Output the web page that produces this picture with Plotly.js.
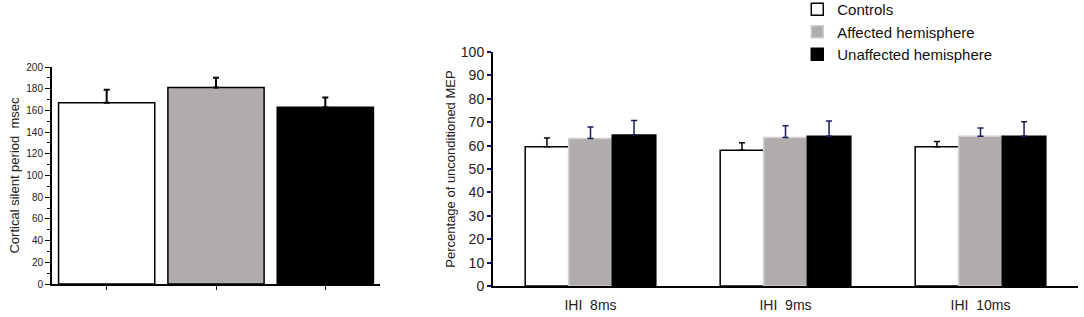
<!DOCTYPE html>
<html><head><meta charset="utf-8">
<script src="https://cdn.plot.ly/plotly-3.0.1.min.js"></script>
<style>html,body{margin:0;padding:0;background:#fff}#c{width:1084px;height:317px}</style>
</head><body><div id="c"></div>
<script>
// Left panel: cortical silent period
const groups = ['Controls', 'Affected hemisphere', 'Unaffected hemisphere'];
const cspValues = [167, 181, 163];
const cspErrors = [12, 9, 9];

// Right panel: IHI
const ihiLabels = ['IHI\u00a0 8ms', 'IHI\u00a0 9ms', 'IHI\u00a0 10ms'];
const controlsIHI = [59.5, 58, 59.5];
const controlsErr = [3.8, 3.2, 2.2];
const affectedIHI = [63, 63.5, 64];
const affectedErr = [5, 5, 3.5];
const unaffectedIHI = [64.5, 64, 64];
const unaffectedErr = [6.2, 6.5, 6.2];

const fills = ['#ffffff', '#b0acab', '#000000'];
const outlines = ['#000000', '#cfcfcf', '#000000'];

const traces = [];
traces.push({
  type: 'bar', x: groups, y: cspValues, xaxis: 'x', yaxis: 'y', showlegend: false, width: 0.88,
  marker: {color: fills, line: {color: '#000', width: 1.5}},
  error_y: {type: 'data', symmetric: false, array: cspErrors, arrayminus: [0,0,0], color: '#000', thickness: 2, width: 3},
  hoverinfo: 'none'
});
const rightSeries = [controlsIHI, affectedIHI, unaffectedIHI];
const rightErrs = [controlsErr, affectedErr, unaffectedErr];
const errColors = ['#000000', '#1c1c5a', '#1c1c5a'];
for (let i = 0; i < 3; i++) {
  traces.push({
    type: 'bar', name: groups[i], x: ihiLabels, y: rightSeries[i], xaxis: 'x2', yaxis: 'y2',
    marker: {color: fills[i], line: {color: outlines[i], width: 1.5}},
    error_y: {type: 'data', symmetric: false, array: rightErrs[i], arrayminus: [0,0,0], color: errColors[i], thickness: 1.5, width: 3},
    hoverinfo: 'none'
  });
}

const layout = {
  width: 1084, height: 317,
  margin: {l: 0, r: 0, t: 0, b: 0, autoexpand: false},
  paper_bgcolor: '#fff', plot_bgcolor: 'rgba(0,0,0,0)',
  font: {family: 'Arial, "Liberation Sans", sans-serif', color: '#111'},
  barmode: 'group', bargap: 0.33, bargroupgap: 0,
  showlegend: true,
  legend: {x: 0.7355, y: 1.022, xanchor: 'left', yanchor: 'top', font: {size: 15, color: '#111'}, bgcolor: 'rgba(0,0,0,0)', tracegroupgap: 0},
  xaxis: {domain: [52/1084, 380/1084], anchor: 'y', showline: true, linecolor: '#000', linewidth: 1.5,
    ticks: 'outside', ticklen: 4, tickcolor: '#000', showticklabels: false, showgrid: false, zeroline: false},
  yaxis: {domain: [(317-284)/317, (317-67)/317], anchor: 'x', range: [0, 200], dtick: 20,
    showline: true, linecolor: '#000', linewidth: 2, ticks: 'outside', ticklen: 5, tickcolor: '#000',
    minor: {dtick: 10, ticks: 'outside', ticklen: 3, tickcolor: '#000'},
    tickfont: {size: 10, color: '#222'}, showgrid: false, zeroline: false,
    title: {text: 'Cortical silent period  msec', font: {size: 13, color: '#222'}, standoff: 4}},
  xaxis2: {domain: [493/1084, 1078/1084], anchor: 'y2', showline: true, linecolor: '#000', linewidth: 2,
    ticks: '', ticklabelstandoff: 5, tickfont: {size: 14, color: '#222'}, showgrid: false, zeroline: false},
  yaxis2: {domain: [(317-286)/317, (317-52)/317], anchor: 'x2', range: [0, 100], dtick: 10,
    showline: true, linecolor: '#000', linewidth: 2, ticks: 'outside', ticklen: 4, tickcolor: '#0a0a7a', tickwidth: 2,
    tickfont: {size: 14, color: '#222'}, showgrid: false, zeroline: false,
    title: {text: 'Percentage of unconditioned MEP', font: {size: 13, color: '#222'}, standoff: 2}}
};
Plotly.newPlot('c', traces, layout, {displayModeBar: false, staticPlot: true});
</script></body></html>
